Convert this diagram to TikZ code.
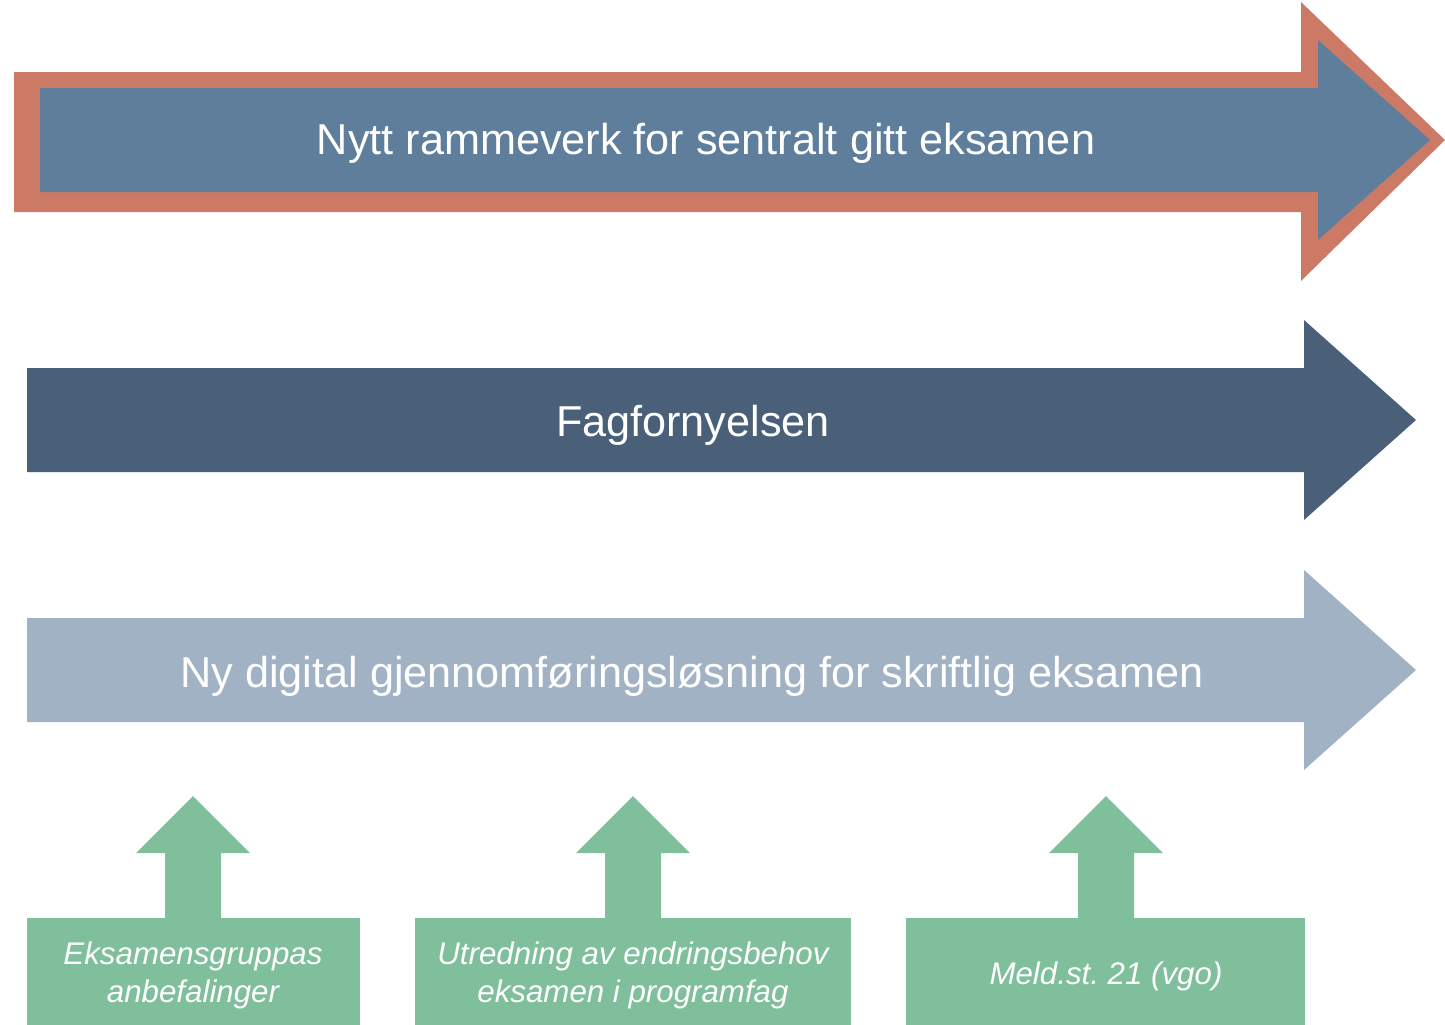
\documentclass[tikz,border=0pt]{standalone}
\usepackage{fontspec}
\setmainfont{Liberation Sans}
\usetikzlibrary{positioning}
\definecolor{rust}{HTML}{CC7A65}
\definecolor{steel}{HTML}{5F7E9C}
\definecolor{slate}{HTML}{4A6078}
\definecolor{mist}{HTML}{A0B2C4}
\definecolor{sage}{HTML}{7FBF9B}
\frenchspacing

\begin{document}
\begin{tikzpicture}[x=0.02cm,y=-0.02cm,
  bandtext/.style={text=white,anchor=base,font=\fontsize{24.6}{28}\selectfont},
  sourcetext/.style={text=white,anchor=base,align=center,font=\itshape\fontsize{17.8}{21.5}\selectfont}]
  \useasboundingbox (0,0) rectangle (1445,1025);

  % big arrows
  \fill[rust] (14,72) -- (1301,72) -- (1301,2) -- (1445,140) -- (1301,281) -- (1301,212) -- (14,212) -- cycle;
  \fill[steel] (40,88) -- (1318,88) -- (1318,40) -- (1430,140) -- (1318,240) -- (1318,192) -- (40,192) -- cycle;
  \fill[slate] (27,368) -- (1304,368) -- (1304,320) -- (1416,420) -- (1304,520) -- (1304,472) -- (27,472) -- cycle;
  \fill[mist] (27,618) -- (1304,618) -- (1304,570) -- (1416,670) -- (1304,770) -- (1304,722) -- (27,722) -- cycle;

  \node[bandtext] (rammeverk) at (706,154) {Nytt rammeverk for sentralt gitt eksamen};
  \node[bandtext] (fagfornyelse) at (693,436) {Fagfornyelsen};
  \node[bandtext] (digital) at (692,687) {Ny digital gjennomføringsløsning for skriftlig eksamen};

  % green inputs
  \foreach \cx/\l/\r in {193/27/360, 633/415/851, 1106/906/1305} {
    \fill[sage] (\l,918) rectangle (\r,1025);
    \fill[sage] (\cx-28,919) -- (\cx-28,853) -- (\cx-57,853) -- (\cx,796) -- (\cx+57,853) -- (\cx+28,853) -- (\cx+28,919) -- cycle;
  }
  \node[sourcetext] (gruppe) at (193,1002) {Eksamensgruppas\\anbefalinger};
  \node[sourcetext] (utredning) at (633,1002) {Utredning av endringsbehov\\eksamen i programfag};
  \node[sourcetext] (melding) at (1106,984) {Meld.st. 21 (vgo)};
\end{tikzpicture}
\end{document}
